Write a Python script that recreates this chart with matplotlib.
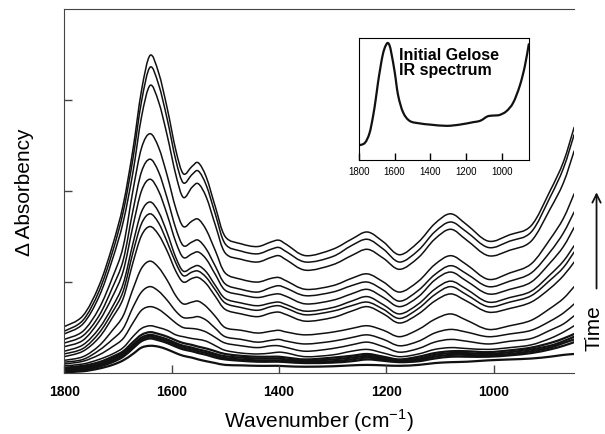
import matplotlib.pyplot as plt
from matplotlib.path import Path
from matplotlib.patches import PathPatch, FancyArrowPatch

plt.rcParams['font.family'] = ['Liberation Sans', 'DejaVu Sans']
plt.rcParams['mathtext.fontset'] = 'custom'
plt.rcParams['mathtext.rm'] = 'Liberation Sans'

# wavenumber grid (cm-1) shared by the difference spectra
wavenumber = [1800, 1765, 1735, 1710, 1690, 1672, 1656, 1640, 1624, 1608, 1592, 1578, 1562, 1550,
              1535, 1518, 1500, 1470, 1440, 1415, 1400, 1385, 1350, 1300, 1265, 1235, 1205, 1175,
              1140, 1110, 1080, 1050, 1010, 970, 930, 895, 870, 850]

# difference spectra, latest (top) to earliest (bottom)
s01 = [.51, .63, .96, 1.40, 1.85, 2.45, 3.10, 3.49, 3.30, 2.91, 2.45, 2.19, 2.27, 2.31, 2.15, 1.82, 1.50, 1.42, 1.39,
       1.44, 1.46, 1.41, 1.29, 1.36, 1.47, 1.55, 1.44, 1.30, 1.44, 1.64, 1.75, 1.63, 1.45, 1.52, 1.62, 2.00, 2.32, 2.70]
s02 = [.46, .58, .90, 1.33, 1.77, 2.35, 2.98, 3.36, 3.17, 2.79, 2.34, 2.09, 2.18, 2.22, 2.06, 1.74, 1.42, 1.34, 1.31,
       1.36, 1.38, 1.33, 1.22, 1.28, 1.40, 1.47, 1.36, 1.22, 1.35, 1.55, 1.66, 1.55, 1.38, 1.45, 1.55, 1.93, 2.25, 2.62]
s03 = [.43, .54, .84, 1.25, 1.66, 2.20, 2.81, 3.16, 2.98, 2.61, 2.18, 1.93, 2.04, 2.08, 1.93, 1.62, 1.32, 1.25, 1.22,
       1.27, 1.29, 1.24, 1.13, 1.19, 1.29, 1.36, 1.26, 1.14, 1.27, 1.47, 1.58, 1.46, 1.29, 1.35, 1.45, 1.80, 2.09, 2.44]
s04 = [.37, .46, .71, 1.05, 1.39, 2.00, 2.47, 2.63, 2.48, 2.17, 1.81, 1.61, 1.67, 1.69, 1.57, 1.34, 1.10, 1.03, 1.00,
       1.04, 1.05, 1.01, .92, .96, 1.04, 1.09, 1.00, .89, 1.01, 1.19, 1.29, 1.19, 1.03, 1.10, 1.20, 1.47, 1.70, 1.97]
s05 = [.33, .41, .63, .94, 1.24, 1.78, 2.21, 2.35, 2.21, 1.92, 1.59, 1.40, 1.44, 1.46, 1.36, 1.17, .98, .92, .89,
       .94, .96, .93, .85, .89, .96, 1.00, .91, .79, .91, 1.08, 1.18, 1.09, .95, 1.01, 1.10, 1.33, 1.54, 1.77]
s06 = [.29, .36, .57, .84, 1.12, 1.61, 2.00, 2.13, 2.00, 1.74, 1.44, 1.27, 1.31, 1.33, 1.25, 1.08, .91, .86, .83,
       .86, .87, .84, .76, .80, .87, .92, .83, .73, .84, 1.02, 1.11, 1.01, .87, .92, 1.00, 1.21, 1.39, 1.60]
s07 = [.24, .31, .49, .73, .98, 1.42, 1.77, 1.88, 1.77, 1.54, 1.27, 1.12, 1.16, 1.18, 1.11, .96, .82, .77, .74,
       .77, .78, .75, .68, .72, .79, .84, .75, .65, .76, .92, 1.01, .92, .78, .83, .90, 1.08, 1.23, 1.40]
s08 = [.21, .27, .44, .67, .90, 1.32, 1.64, 1.75, 1.65, 1.44, 1.21, 1.07, 1.11, 1.12, 1.05, .91, .77, .72, .69,
       .73, .74, .71, .64, .68, .74, .78, .70, .60, .71, .86, .95, .86, .73, .78, .85, 1.02, 1.16, 1.33]
s09 = [.18, .24, .39, .61, .82, 1.21, 1.51, 1.61, 1.52, 1.34, 1.12, 1.00, 1.04, 1.05, .98, .84, .70, .65, .62,
       .66, .67, .64, .57, .61, .68, .73, .65, .55, .65, .79, .87, .79, .67, .71, .78, .93, 1.07, 1.22]
s10 = [.14, .18, .30, .47, .63, .92, 1.15, 1.23, 1.16, 1.02, .85, .76, .78, .79, .73, .62, .50, .47, .44,
       .46, .47, .45, .42, .45, .49, .52, .47, .40, .48, .59, .65, .58, .48, .52, .58, .71, .82, .95]
s11 = [.12, .15, .25, .37, .49, .72, .89, .95, .90, .80, .68, .61, .61, .62, .58, .49, .40, .37, .34,
       .36, .37, .35, .32, .35, .39, .42, .37, .30, .35, .44, .48, .45, .40, .43, .47, .57, .66, .76]
s12 = [.10, .13, .20, .29, .38, .55, .69, .73, .70, .63, .55, .50, .49, .48, .45, .39, .33, .30, .28,
       .30, .30, .28, .24, .27, .31, .34, .29, .23, .27, .34, .37, .35, .32, .35, .38, .47, .54, .63]
s13 = [.08, .10, .15, .21, .28, .40, .49, .52, .50, .47, .42, .40, .38, .37, .35, .30, .25, .22, .21,
       .22, .23, .22, .18, .20, .24, .26, .22, .18, .21, .26, .28, .27, .26, .28, .31, .38, .45, .52]
s14 = [.06, .08, .12, .18, .24, .34, .42, .45, .43, .40, .36, .33, .31, .29, .27, .24, .21, .19, .18,
       .18, .18, .17, .15, .17, .19, .21, .18, .15, .18, .22, .24, .24, .23, .25, .28, .33, .38, .43]
s15 = [.045, .065, .10, .16, .22, .31, .39, .42, .40, .37, .33, .30, .28, .26, .24, .21, .185, .17, .16,
       .16, .16, .15, .135, .15, .17, .19, .165, .14, .16, .20, .22, .22, .21, .23, .26, .30, .35, .40]
s16 = [.03, .05, .085, .14, .20, .29, .37, .40, .38, .35, .31, .28, .26, .24, .22, .19, .165, .15, .14,
       .14, .14, .135, .12, .13, .15, .17, .15, .13, .145, .18, .20, .20, .195, .21, .24, .28, .33, .37]
s17 = [.02, .035, .07, .12, .18, .27, .35, .38, .36, .33, .29, .26, .24, .22, .20, .17, .15, .135, .125,
       .125, .125, .12, .11, .115, .13, .15, .135, .12, .13, .16, .18, .18, .18, .195, .22, .26, .30, .34]
s18 = [.01, .02, .05, .09, .14, .21, .28, .30, .29, .26, .22, .19, .17, .15, .13, .11, .09, .085, .08,
       .08, .08, .075, .07, .075, .085, .09, .085, .08, .09, .11, .12, .125, .14, .15, .16, .18, .20, .21]

upper_spectra = [s01, s02, s03, s04, s05, s06, s07, s08, s09, s10, s11, s12, s13]
early_spectra = [s14, s15, s16, s17, s18]

# initial gelose IR spectrum (inset), normalised
inset_wavenumber = [1800, 1766, 1740, 1720, 1705, 1692, 1680, 1668, 1655, 1640, 1628, 1617, 1599, 1580,
                    1552, 1515, 1459, 1400, 1310, 1236, 1161, 1124, 1100, 1077, 1040, 1012, 975, 937,
                    900, 872, 850]
inset_absorbance = [.12, .14, .22, .36, .50, .64, .75, .85, .92, .96, .94, .87, .72, .53,
                    .39, .32, .30, .29, .28, .29, .31, .32, .34, .36, .365, .37, .40, .47,
                    .61, .77, .95]

main_ticks = [1800, 1600, 1400, 1200, 1000]


def smooth_line(ax, x, y, lw):
    # draw a smooth curve through the points (Catmull-Rom as cubic Bezier)
    n = len(x)
    verts = [(x[0], y[0])]
    codes = [Path.MOVETO]
    for i in range(n - 1):
        x0, y0 = (x[i - 1], y[i - 1]) if i > 0 else (x[i], y[i])
        x1, y1 = x[i], y[i]
        x2, y2 = x[i + 1], y[i + 1]
        x3, y3 = (x[i + 2], y[i + 2]) if i + 2 < n else (x2, y2)
        verts += [(x1 + (x2 - x0) / 6, y1 + (y2 - y0) / 6),
                  (x2 - (x3 - x1) / 6, y2 - (y3 - y1) / 6),
                  (x2, y2)]
        codes += [Path.CURVE4] * 3
    ax.add_patch(PathPatch(Path(verts, codes), fill=False, edgecolor='#111111', lw=lw,
                           capstyle='round', joinstyle='round'))


fig = plt.figure(figsize=(6.05, 4.35), dpi=100)
ax = fig.add_axes([0.106, 0.140, 0.843, 0.837])

for s in upper_spectra:
    smooth_line(ax, wavenumber, s, 1.1)
for s in early_spectra:
    smooth_line(ax, wavenumber, s, 1.6)

ax.set_xlim(1800, 850)
ax.set_ylim(0, 4)
ax.set_xticks(main_ticks)
ax.set_xticklabels([str(t) for t in main_ticks], fontweight='bold', fontsize=10)
ax.set_yticks([1, 2, 3])
ax.set_yticklabels([])
ax.tick_params(direction='in', length=6, width=1, color='#444444', pad=8)
ax.spines['right'].set_visible(False)
for side in ['left', 'bottom', 'top']:
    ax.spines[side].set_color('#444444')
ax.set_xlabel('Wavenumber (cm$^{-1}$)', fontsize=15, labelpad=6)
ax.set_ylabel('\u0394 Absorbency', fontsize=15, labelpad=14)

# time arrow on the right
fig.text(0.982, 0.245, 'Time', rotation=90, fontsize=15, ha='center', va='center')
fig.patches.append(FancyArrowPatch(
    (0.986, 0.328), (0.986, 0.562), transform=fig.transFigure,
    arrowstyle='->,head_length=6,head_width=3', lw=1.3, color='#111111'))

# inset with the initial spectrum
ins = fig.add_axes([0.593, 0.630, 0.281, 0.280])
smooth_line(ins, inset_wavenumber, inset_absorbance, 1.6)
ins.set_xlim(1800, 850)
ins.set_ylim(0, 1)
ins.set_xticks(main_ticks)
ins.set_xticklabels([str(t) for t in main_ticks], fontsize=7)
ins.set_yticks([])
ins.tick_params(direction='in', length=5, width=1, pad=4)
ins.text(0.235, 0.93, 'Initial Gelose\nIR spectrum', transform=ins.transAxes, fontsize=11.5,
         fontweight='bold', va='top', ha='left', linespacing=1.0)

fig.savefig('out.png', dpi=100)
